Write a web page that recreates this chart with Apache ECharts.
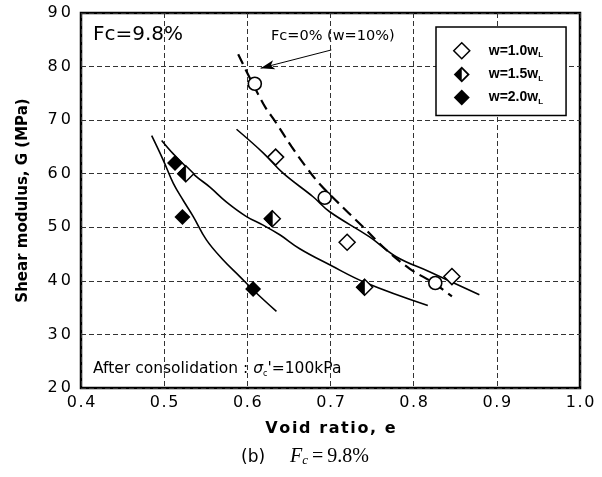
<!DOCTYPE html>
<html>
<head>
<meta charset="utf-8">
<script src="https://cdn.jsdelivr.net/npm/echarts@6/dist/echarts.min.js"></script>
<style>
  html, body { margin: 0; padding: 0; background: #fff; }
  #chart { width: 602px; height: 477px; }
</style>
</head>
<body>
<div id="chart"></div>
<script>
// ---------- data ----------
const xTicks = ['0.4', '0.5', '0.6', '0.7', '0.8', '0.9', '1.0'];
const yTicks = ['20', '30', '40', '50', '60', '70', '80', '90'];

// measured points (void ratio e, shear modulus G)
const w10E = [0.634, 0.720, 0.846];
const w10G = [63.1, 47.2, 40.8];
const w15E = [0.526, 0.630, 0.741];
const w15G = [60.0, 51.6, 38.8];
const w20E = [0.513, 0.522, 0.607];
const w20G = [62.0, 51.9, 38.5];
const fc0E = [0.609, 0.693, 0.826];
const fc0G = [76.8, 55.5, 39.6];

// fitted curves
const curveFc0E = [0.589, 0.619, 0.635, 0.653, 0.671, 0.687, 0.719, 0.739, 0.767, 0.795, 0.825, 0.846];
const curveFc0G = [82.3, 73.1, 69.4, 65.1, 61.2, 58.1, 53.1, 50.1, 45.8, 42.3, 39.5, 37.1];
const curve10E = [0.587, 0.619, 0.643, 0.679, 0.699, 0.747, 0.779, 0.819, 0.879];
const curve10G = [68.3, 63.9, 60.1, 55.7, 52.9, 48.2, 44.5, 41.7, 37.4];
const curve15E = [0.497, 0.511, 0.537, 0.555, 0.575, 0.599, 0.619, 0.639, 0.663, 0.699, 0.743, 0.817];
const curve15G = [66.2, 63.7, 59.7, 57.5, 54.7, 52.0, 50.4, 48.6, 46.0, 43.0, 39.6, 35.4];
const curve20E = [0.485, 0.499, 0.511, 0.523, 0.535, 0.551, 0.571, 0.591, 0.607, 0.635];
const curve20G = [67.1, 62.5, 58.2, 55.0, 52.0, 47.6, 43.9, 40.8, 38.3, 34.3];

// annotation arrow (from label to the Fc=0% curve)
const arrowFrom = [0.701, 83.1];
const arrowTo = [0.616, 79.7];

const seriesNames = ['w=1.0wL', 'w=1.5wL', 'w=2.0wL'];

// ---------- helpers ----------
const zip = (a, b) => a.map((v, i) => [v, b[i]]);
const spaced = (s, ch) => s.split('').join(ch);
const HALF_ICON = 'path://M10,0 L0,10 L10,20 Z M10,0 L20,10 L10,20 Z M10,3.2 L10,16.8 L16.8,10 Z';
const LEFT_TRI = 'path://M10,0 L0,10 L10,20 Z';

const chart = echarts.init(document.getElementById('chart'), null, { renderer: 'canvas' });

const curveStyle = { color: '#000', width: 1.6 };

const option = {
  animation: false,
  backgroundColor: '#fff',
  grid: {
    left: 81, top: 13, right: 22, bottom: 89,
    show: true, borderColor: '#000', borderWidth: 2.5, backgroundColor: 'transparent'
  },
  xAxis: {
    type: 'value', min: 0.4, max: 1.0, interval: 0.1,
    name: spaced('Void ratio, e', '\u200A'),
    nameLocation: 'middle', nameGap: 33,
    nameTextStyle: { fontFamily: 'DejaVu Sans', fontWeight: 'bold', fontSize: 16, color: '#000' },
    axisLine: { show: false }, axisTick: { show: false },
    axisLabel: {
      margin: 7, color: '#000', fontFamily: 'DejaVu Sans', fontSize: 16,
      formatter: v => spaced(xTicks[Math.round((v - 0.4) / 0.1)] || '', '\u200A')
    },
    splitLine: { show: true, lineStyle: { color: '#333', width: 1, type: [5, 3] } }
  },
  yAxis: {
    type: 'value', min: 20, max: 90, interval: 10,
    name: 'Shear modulus, G (MPa)',
    nameLocation: 'middle', nameGap: 50, nameRotate: 90,
    nameTextStyle: { fontFamily: 'DejaVu Sans', fontWeight: 'bold', fontSize: 15, color: '#000' },
    axisLine: { show: false }, axisTick: { show: false },
    axisLabel: {
      margin: 10, color: '#000', fontFamily: 'DejaVu Sans', fontSize: 16,
      formatter: v => spaced(yTicks[Math.round((v - 20) / 10)] || '', '\u200A\u200A')
    },
    splitLine: { show: true, lineStyle: { color: '#333', width: 1, type: [5, 3] } }
  },
  legend: {
    left: 436, top: 27, orient: 'vertical',
    backgroundColor: '#fff', borderColor: '#000', borderWidth: 1.5, borderRadius: 0,
    padding: [15, 23, 10, 17], itemGap: 7, itemWidth: 16, itemHeight: 16,
    selectedMode: false,
    data: [
      { name: seriesNames[0], icon: 'diamond', itemStyle: { color: '#fff', borderColor: '#000', borderWidth: 1.5 } },
      { name: seriesNames[1], icon: HALF_ICON, itemStyle: { color: '#000', borderWidth: 0 } },
      { name: seriesNames[2], icon: 'diamond', itemStyle: { color: '#000', borderWidth: 0 } }
    ],
    formatter: n => '{a|' + n.slice(0, -1) + '}{b|' + n.slice(-1) + '}',
    textStyle: {
      padding: [0, 0, 0, 14],
      rich: {
        a: { fontFamily: 'Liberation Sans', fontWeight: 'bold', fontSize: 14, lineHeight: 16, color: '#000' },
        b: { fontFamily: 'Liberation Sans', fontWeight: 'bold', fontSize: 8, lineHeight: 9, verticalAlign: 'bottom', color: '#000' }
      }
    }
  },
  graphic: [
    { type: 'text', left: 93, top: 25, silent: true,
      style: { text: 'Fc=9.8%', font: '20px "DejaVu Sans"', fill: '#000' } },
    { type: 'text', left: 271, top: 29, silent: true,
      style: { text: 'Fc=0% (w=10%)', font: '14.5px "DejaVu Sans"', fill: '#000' } },
    { type: 'text', left: 93, top: 361, silent: true,
      style: {
        text: '{n|After consolidation : }{g|σ}{s|c}{n|\'=100kPa}',
        rich: {
          n: { fontFamily: 'DejaVu Sans', fontSize: 15.5, lineHeight: 18, fill: '#000' },
          g: { fontFamily: 'DejaVu Sans', fontStyle: 'italic', fontSize: 15.5, lineHeight: 18, fill: '#000' },
          s: { fontFamily: 'DejaVu Sans', fontSize: 8, lineHeight: 10, verticalAlign: 'bottom', fill: '#000' }
        }
      } },
    { type: 'text', left: 241, top: 449, silent: true,
      style: { text: '(b)', font: '17px "DejaVu Sans"', fill: '#000' } },
    { type: 'text', left: 290, top: 447, silent: true,
      style: {
        text: '{i|F}{s|c}{n|\u2009=\u20099.8%}',
        rich: {
          i: { fontFamily: 'Liberation Serif', fontStyle: 'italic', fontSize: 20, lineHeight: 21, fill: '#000' },
          s: { fontFamily: 'Liberation Serif', fontStyle: 'italic', fontSize: 13, lineHeight: 11, verticalAlign: 'bottom', fill: '#000' },
          n: { fontFamily: 'Liberation Serif', fontSize: 20, lineHeight: 21, fill: '#000' }
        }
      } }
  ],
  series: [
    { type: 'line', name: 'curveFc0', data: zip(curveFc0E, curveFc0G), smooth: 0.4, showSymbol: false, z: 2, silent: true,
      lineStyle: { color: '#000', width: 2.2, type: [11, 6] },
      markLine: {
        silent: true, symbol: ['none', 'arrow'], symbolSize: [7, 14], label: { show: false },
        lineStyle: { color: '#000', width: 1, type: 'solid' },
        data: [[{ coord: arrowFrom }, { coord: arrowTo }]]
      } },
    { type: 'line', name: 'curve10', data: zip(curve10E, curve10G), smooth: 0.4, showSymbol: false, z: 2, silent: true, lineStyle: curveStyle },
    { type: 'line', name: 'curve15', data: zip(curve15E, curve15G), smooth: 0.4, showSymbol: false, z: 2, silent: true, lineStyle: curveStyle },
    { type: 'line', name: 'curve20', data: zip(curve20E, curve20G), smooth: 0.4, showSymbol: false, z: 2, silent: true, lineStyle: curveStyle },
    { type: 'scatter', name: 'Fc=0%', data: zip(fc0E, fc0G), symbol: 'circle', symbolSize: 13, z: 4,
      itemStyle: { color: '#fff', borderColor: '#000', borderWidth: 1.6, opacity: 1 } },
    { type: 'scatter', name: seriesNames[0], data: zip(w10E, w10G), symbol: 'diamond', symbolSize: 16, z: 4,
      itemStyle: { color: '#fff', borderColor: '#000', borderWidth: 1.5, opacity: 1 } },
    { type: 'scatter', name: 'outline15', data: zip(w15E, w15G), symbol: 'diamond', symbolSize: 16, z: 4,
      itemStyle: { color: '#fff', borderColor: '#000', borderWidth: 1.5, opacity: 1 } },
    { type: 'scatter', name: seriesNames[1], data: zip(w15E, w15G), symbol: LEFT_TRI, symbolSize: [8, 16], symbolOffset: [-4, 0], z: 5,
      itemStyle: { color: '#000', borderColor: '#000', borderWidth: 0.8, opacity: 1 } },
    { type: 'scatter', name: seriesNames[2], data: zip(w20E, w20G), symbol: 'diamond', symbolSize: 16, z: 4,
      itemStyle: { color: '#000', borderWidth: 0, opacity: 1 } }
  ]
};

chart.setOption(option);
</script>
</body>
</html>
